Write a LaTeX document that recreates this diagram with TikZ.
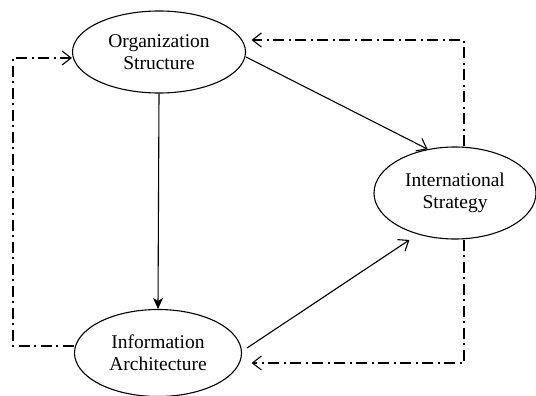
\documentclass[tikz,border=0pt]{standalone}
\usepackage{fontspec}
\setmainfont{Liberation Serif}
\usetikzlibrary{arrows.meta,shapes.geometric}

\begin{document}
\begin{tikzpicture}[x=1pt, y=-1pt, font=\fontsize{19.5}{22}\selectfont,
    block/.style={ellipse, draw, line width=1.1pt, inner sep=0pt, align=center},
    flow/.style={line width=1.1pt, -{Straight Barb[length=9pt,width=14pt]}},
    push/.style={line width=1.1pt, -{Stealth[length=11pt,width=10pt,inset=3pt]}},
    feedback/.style={line width=1.1pt, dash pattern=on 11pt off 4.5pt on 2pt off 4.5pt,
      -{Straight Barb[length=9pt,width=14pt]}}]
  \useasboundingbox (0,0) rectangle (536,396);

  % the three ellipses
  \node [block, minimum width=173pt, minimum height=82pt](org) at (159,52) {Organization\\Structure};
  \node [block, minimum width=167pt, minimum height=87pt](info) at (158,353) {Information\\Architecture};
  \node [block, minimum width=162pt, minimum height=92pt](is) at (455,193) {International\\Strategy};

  % corners of the feedback loops
  \coordinate (lb) at (13,346);
  \coordinate (lt) at (13,58);
  \coordinate (rt) at (464,40);
  \coordinate (rb) at (464,363);

  % solid arrows
  \draw [push] (org.south) -- (info.north);
  \draw [flow] ([yshift=-5pt]org.east) -- (is.122);
  \draw [flow, shorten >=10pt] ([xshift=5pt,yshift=5pt]info.east) -- (is.228);

  % dash-dot feedback
  \draw [feedback] (lb -| info.west) -- (lb) -- (lt) -- (lt -| org.west);
  \draw [feedback, shorten >=5.5pt] (rt |- is.north) -- (rt) -- (rt -| org.east);
  \draw [feedback, shorten >=9.5pt] (rb |- is.south) -- (rb) -- (rb -| info.east);
\end{tikzpicture}
\end{document}
